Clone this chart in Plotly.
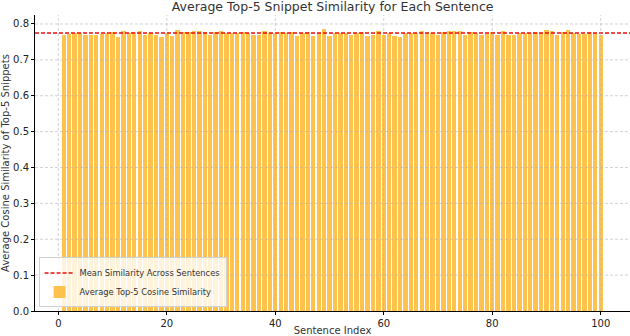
import numpy as np
import plotly.graph_objects as go

# Average top-5 cosine similarity per sentence
sentence_index = list(range(1, 101))
avg_similarity = [
    0.768, 0.772, 0.775, 0.775, 0.770, 0.770, 0.770, 0.772, 0.775, 0.778,
    0.764, 0.781, 0.775, 0.778, 0.781, 0.770, 0.775, 0.770, 0.764, 0.775,
    0.767, 0.783, 0.778, 0.778, 0.781, 0.781, 0.778, 0.770, 0.778, 0.781,
    0.775, 0.775, 0.775, 0.778, 0.775, 0.770, 0.770, 0.781, 0.775, 0.775,
    0.778, 0.775, 0.778, 0.767, 0.775, 0.778, 0.767, 0.775, 0.786, 0.767,
    0.775, 0.775, 0.775, 0.770, 0.775, 0.778, 0.767, 0.770, 0.781, 0.770,
    0.775, 0.767, 0.764, 0.775, 0.775, 0.775, 0.781, 0.775, 0.775, 0.770,
    0.778, 0.781, 0.781, 0.781, 0.770, 0.778, 0.775, 0.770, 0.772, 0.778,
    0.770, 0.781, 0.770, 0.770, 0.775, 0.775, 0.775, 0.778, 0.775, 0.783,
    0.781, 0.770, 0.778, 0.783, 0.775, 0.772, 0.772, 0.778, 0.775, 0.770,
]
x_ticks = [0, 20, 40, 60, 80, 100]
y_ticks = [0.0, 0.1, 0.2, 0.3, 0.4, 0.5, 0.6, 0.7, 0.8]

mean_sim = float(np.mean(avg_similarity))
grid_col = 'rgba(175,175,175,0.55)'

fig = go.Figure()

fig.add_trace(go.Bar(x=sentence_index, y=avg_similarity, width=0.8,
                     marker=dict(color='#FFC34D', line=dict(width=0)),
                     name='Average Top-5 Cosine Similarity', legendrank=2))

# mean line (shape with legend entry)
fig.add_hline(y=mean_sim, line=dict(color='#E8110F', dash='4px,2px', width=1.5),
              layer='above', showlegend=True, legendrank=1,
              name='Mean Similarity Across Sentences')

# dashed grid drawn on top of the bars, like the original
for t in x_ticks:
    fig.add_vline(x=t, line=dict(color=grid_col, dash='3px,2px', width=1), layer='above')
for t in y_ticks[1:]:
    fig.add_hline(y=t, line=dict(color=grid_col, dash='3px,2px', width=1), layer='above')

fig.update_layout(width=630, height=336,
                  margin=dict(l=35, r=0, t=15, b=25, pad=0),
                  plot_bgcolor='white', paper_bgcolor='white',
                  font=dict(family='DejaVu Sans', size=10, color='#222'),
                  title=dict(text='Average Top-5 Snippet Similarity for Each Sentence',
                             font=dict(size=12.5, color='#333'),
                             x=0.528, xanchor='center', y=0.994, yanchor='top',
                             pad=dict(t=0, b=0)),
                  bargap=0,
                  showlegend=True,
                  legend=dict(x=0.006, y=0.012, xanchor='left', yanchor='bottom',
                              bgcolor='rgba(255,255,255,0.8)', bordercolor='#d0d0d0',
                              borderwidth=1, font=dict(size=8.3, color='#333'),
                              tracegroupgap=0, itemwidth=30),
                  xaxis=dict(range=[-4.3, 105.4], tickvals=x_ticks, showgrid=False,
                             automargin=False,
                             zeroline=False, showline=True, linecolor='black', linewidth=1,
                             ticks='outside', ticklen=3, tickcolor='black',
                             title=dict(text='Sentence Index', standoff=2,
                                        font=dict(size=10, color='#333'))),
                  yaxis=dict(range=[0, 0.825], tickvals=y_ticks, tickformat='.1f',
                             automargin=False,
                             showgrid=False, zeroline=False, showline=True,
                             linecolor='black', linewidth=1,
                             ticks='outside', ticklen=3, tickcolor='black',
                             title=dict(text='Average Cosine Similarity of Top-5 Snippets',
                                        standoff=2, font=dict(size=10, color='#333'))))

# drop the default body margin so the figure sits at the window's corner
fig.write_html("out.html", config={'displayModeBar': False},
               post_script="document.body.style.margin='0';")
